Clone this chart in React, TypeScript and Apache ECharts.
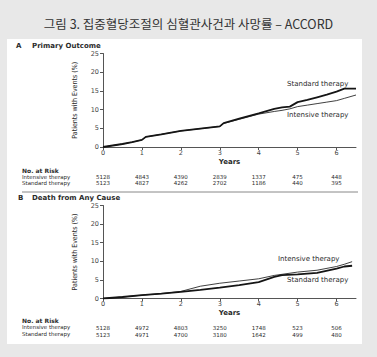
import React, { useEffect, useRef } from "react";
import * as echarts from "echarts";

const TITLE = "그림 3. 집중혈당조절의 심혈관사건과 사망률 – ACCORD";

// Panel A: Primary Outcome (years, % with events)
const primaryYears = [0, 0.25, 0.5, 0.75, 1.0, 1.1, 1.5, 2.0, 2.5, 3.0, 3.1, 3.5, 4.0, 4.4, 4.6, 4.8, 5.0, 5.25, 5.5, 5.75, 6.0, 6.2, 6.5];
const primaryStandard = [0, 0.4, 0.8, 1.3, 1.9, 2.7, 3.4, 4.3, 4.9, 5.5, 6.4, 7.6, 9.0, 10.2, 10.6, 10.8, 12.0, 12.6, 13.3, 14.0, 14.8, 15.6, 15.6];
const primaryIntensive = [0, 0.4, 0.8, 1.3, 1.9, 2.7, 3.4, 4.3, 4.9, 5.5, 6.3, 7.4, 8.8, 9.5, 9.8, 10.2, 10.8, 11.2, 11.6, 12.0, 12.4, 13.0, 13.9];

// Panel B: Death from Any Cause
const deathYears = [0, 0.5, 1, 1.5, 2, 2.5, 3, 3.5, 4, 4.4, 4.6, 5, 5.5, 6, 6.2, 6.4];
const deathStandard = [0, 0.4, 0.9, 1.3, 1.8, 2.3, 2.9, 3.6, 4.4, 5.8, 6.3, 6.5, 6.9, 8.0, 8.6, 8.8];
const deathIntensive = [0, 0.4, 0.9, 1.3, 1.9, 3.3, 4.1, 4.7, 5.3, 6.2, 6.5, 7.1, 7.6, 8.6, 9.2, 9.9];

// Number at risk (at years 0..6)
const riskYears = [0, 1, 2, 3, 4, 5, 6];
const riskPrimaryIntensive = [5128, 4843, 4390, 2839, 1337, 475, 448];
const riskPrimaryStandard = [5123, 4827, 4262, 2702, 1186, 440, 395];
const riskDeathIntensive = [5128, 4972, 4803, 3250, 1748, 523, 506];
const riskDeathStandard = [5123, 4971, 4700, 3180, 1642, 499, 480];

const yTicks = [0, 5, 10, 15, 20, 25];

const FONT = "DejaVu Sans, Verdana, sans-serif";
const TXT = "#2b2b2b";
const ROW_FS = 5.5;

const pairs = (xs: number[], ys: number[]) => xs.map((x, i) => [x, ys[i]]);

export default function App() {
  const ref = useRef<HTMLDivElement>(null);
  useEffect(() => {
    if (!ref.current) return;
    const chart = echarts.init(ref.current, null, { renderer: "svg" });

    const grids = [
      { left: 103, top: 53.5, width: 253, height: 93.5 },
      { left: 103, top: 205.5, width: 253, height: 93 },
    ];

    const intFmt = (v: number) => {
      const i = Math.round(v);
      return Math.abs(v - i) < 1e-6 && riskYears.includes(i) ? String(i) : "";
    };
    const riskFmt = (arr: number[]) => (v: number) => {
      const i = Math.round(v);
      if (Math.abs(v - i) > 1e-6) return "";
      const k = riskYears.indexOf(i);
      return k >= 0 ? String(arr[k]) : "";
    };

    const mainX = (gi: number) => ({
      gridIndex: gi,
      type: "value",
      min: 0,
      max: 6.5,
      interval: 1,
      name: "Years",
      nameLocation: "middle",
      nameGap: 11,
      nameTextStyle: { fontFamily: FONT, fontSize: 7, fontWeight: "bold", color: TXT },
      axisLine: { lineStyle: { color: "#555", width: 1 } },
      axisTick: { length: 3, lineStyle: { color: "#555" } },
      axisLabel: { fontFamily: FONT, fontSize: 6.5, color: "#444", margin: 2, formatter: intFmt, showMaxLabel: false },
      splitLine: { show: false },
    });
    const riskX = (gi: number, offset: number, arr: number[]) => ({
      gridIndex: gi,
      type: "value",
      min: 0,
      max: 6.5,
      interval: 1,
      position: "bottom",
      offset,
      axisLine: { show: false },
      axisTick: { show: false },
      splitLine: { show: false },
      axisLabel: { fontFamily: FONT, fontSize: ROW_FS, lineHeight: 6, color: TXT, margin: 0, formatter: riskFmt(arr), showMaxLabel: false },
    });
    const mainY = (gi: number) => ({
      gridIndex: gi,
      type: "value",
      min: yTicks[0],
      max: yTicks[yTicks.length - 1],
      interval: 5,
      name: "Patients with Events (%)",
      nameLocation: "middle",
      nameGap: 25,
      nameTextStyle: { fontFamily: "Liberation Sans Narrow, DejaVu Sans Condensed, Arial Narrow, sans-serif", fontSize: 7, color: TXT },
      axisLine: { show: true, lineStyle: { color: "#555", width: 1 } },
      axisTick: { show: true, length: 3, lineStyle: { color: "#555" } },
      axisLabel: { fontFamily: FONT, fontSize: 6.5, color: "#444", margin: 4 },
      splitLine: { show: false },
    });

    const lineStd = { color: "#151515", width: 1.8 };
    const lineInt = { color: "#2a2a2a", width: 0.9 };

    const t = (text: string, x: number, y: number, opts: any = {}) => ({
      type: "text",
      x,
      y,
      style: {
        text,
        fontFamily: FONT,
        fontSize: 7,
        fill: TXT,
        textVerticalAlign: "middle",
        ...opts,
      },
    });
    const row = (text: string, x: number, y: number, bold = false) =>
      t(text, x, y, { fontSize: bold ? 6 : ROW_FS, lineHeight: 6, fontWeight: bold ? "bold" : "normal" });

    chart.setOption({
      animation: false,
      backgroundColor: "#e8e8e8",
      grid: grids,
      xAxis: [
        mainX(0),
        mainX(1),
        riskX(0, 26.5, riskPrimaryIntensive),
        riskX(0, 33, riskPrimaryStandard),
        riskX(1, 26.5, riskDeathIntensive),
        riskX(1, 33, riskDeathStandard),
      ],
      yAxis: [mainY(0), mainY(1)],
      series: [
        { type: "line", name: "Standard therapy", xAxisIndex: 0, yAxisIndex: 0, data: pairs(primaryYears, primaryStandard), showSymbol: false, lineStyle: lineStd, z: 3 },
        { type: "line", name: "Intensive therapy", xAxisIndex: 0, yAxisIndex: 0, data: pairs(primaryYears, primaryIntensive), showSymbol: false, lineStyle: lineInt, z: 2 },
        { type: "line", name: "Standard therapy", xAxisIndex: 1, yAxisIndex: 1, data: pairs(deathYears, deathStandard), showSymbol: false, lineStyle: lineStd, z: 3 },
        { type: "line", name: "Intensive therapy", xAxisIndex: 1, yAxisIndex: 1, data: pairs(deathYears, deathIntensive), showSymbol: false, lineStyle: lineInt, z: 2 },
      ],
      graphic: [
        { type: "rect", z: -10, shape: { x: 7, y: 39, width: 355, height: 305 }, style: { fill: "#ffffff" } },
        {
          type: "text",
          x: 188.5,
          y: 23,
          style: {
            text: TITLE,
            fontFamily: "Noto Sans CJK KR, sans-serif",
            fontSize: 12.5,
            fill: "#333",
            textAlign: "center",
            textVerticalAlign: "middle",
          },
        },
        t("A", 16, 46, { fontWeight: "bold" }),
        t("Primary Outcome", 32, 46, { fontWeight: "bold" }),
        t("B", 18, 198, { fontWeight: "bold" }),
        t("Death from Any Cause", 32, 198, { fontWeight: "bold" }),
        row("No. at Risk", 22, 170, true),
        row("Intensive therapy", 22, 176.5),
        row("Standard therapy", 22, 183),
        row("No. at Risk", 22, 320.5, true),
        row("Intensive therapy", 22, 327),
        row("Standard therapy", 22, 333.5),
        t("Standard therapy", 287, 84),
        t("Intensive therapy", 287, 115),
        t("Intensive therapy", 278, 259),
        t("Standard therapy", 287, 280),
        { type: "line", shape: { x1: 22, y1: 192, x2: 358, y2: 192 }, style: { stroke: "#888", lineWidth: 1 } },
      ],
    });
    return () => chart.dispose();
  }, []);
  return <div ref={ref} style={{ position: "fixed", left: 0, top: 0, width: 377, height: 357 }} />;
}
